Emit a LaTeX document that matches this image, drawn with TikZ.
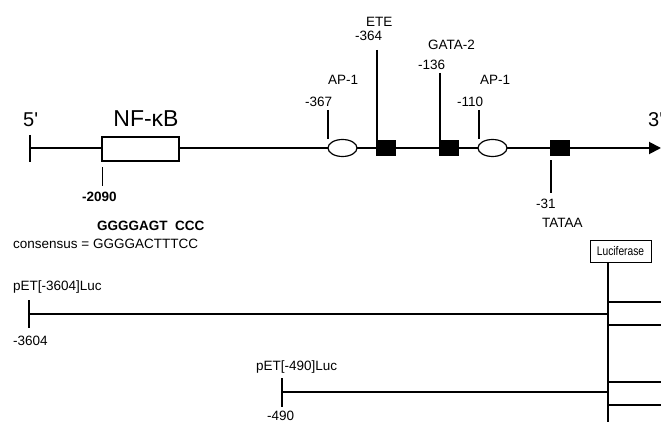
\documentclass[tikz,border=0pt]{standalone}
\usepackage{fontspec}
\setmainfont{Liberation Sans}
\usepackage{graphicx}
\usepackage{tikz}
\usetikzlibrary{arrows.meta, shapes.geometric}

\begin{document}
\begin{tikzpicture}[
  x=1pt, y=-1pt,
  lbl/.style={font=\fontsize{13.5}{16}\selectfont, inner sep=0pt, anchor=base west},
  big/.style={font=\fontsize{20}{24}\selectfont, inner sep=0pt, anchor=base west},
  dna/.style={line width=1.9pt},
  tick/.style={line width=1.3pt},
  site/.style={draw, line width=1.2pt, fill=white, inner sep=0pt,
    minimum width=77pt, minimum height=24pt},
  apone/.style={ellipse, draw, line width=1.2pt, fill=white, inner sep=0pt,
    minimum width=29pt, minimum height=17pt},
  blk/.style={fill=black, inner sep=0pt, minimum width=20pt, minimum height=16pt},
  lucbox/.style={draw, line width=1pt, inner sep=0pt, minimum width=61pt,
    minimum height=22pt},
]
  \useasboundingbox (0,0) rectangle (661,422);

  % Promoter line
  \coordinate (p5) at (30,148);
  \coordinate (p3) at (661,148);
  \draw[dna, -{Triangle[length=12pt, width=12pt]}] (p5) -- (p3);
  \coordinate (t5a) at (30,135);
  \coordinate (t5b) at (30,162);
  \draw[dna] (t5a) -- (t5b);
  \node[big] (lab5) at (23,127) {5\textquotesingle};
  \node[big] (lab3) at (648,127) {3\textquotesingle};

  % NF-kB site
  \node[site] (nfkb) at (140.5,149) {};
  \node[inner sep=0pt, anchor=base, font=\fontsize{23}{27}\selectfont] (nfkblab)
    at (146,127) {NF-κB};
  \coordinate (t2090a) at (102.5,167);
  \coordinate (t2090b) at (102.5,186);
  \draw[dna] (t2090a) -- (t2090b);
  \node[lbl, font=\fontsize{13.5}{16}\selectfont\bfseries] (m2090) at (82,202) {-2090};
  \node[lbl, font=\fontsize{13.5}{16}\selectfont\bfseries] (seq) at (97,230)
    {GGGGAGT\ \ CCC};
  \node[lbl] (cons) at (13,248) {consensus = GGGGACTTTCC};

  % Proximal sites
  \node[apone] (apa) at (342.5,148) {};
  \node[blk] (ete) at (386,148) {};
  \node[blk] (gata) at (449,148) {};
  \node[apone] (apb) at (492.5,148) {};
  \node[blk] (tata) at (560,148) {};

  \coordinate (t367) at (328,110);
  \coordinate (t364) at (377,50);
  \coordinate (t136) at (440,73);
  \coordinate (t110) at (479,110);
  \coordinate (t31) at (551,193);
  \draw[tick] (t367) -- (t367 |- apa.north);
  \draw[tick] (t364) -- (t364 |- ete.north);
  \draw[tick] (t136) -- (t136 |- gata.north);
  \draw[tick] (t110) -- (t110 |- apb.north);
  \draw[tick] (tata.south -| t31) ++(0,4) -- (t31);

  \node[lbl] (lete) at (366,27) {ETE};
  \node[lbl] (l364) at (355,41) {-364};
  \node[lbl] (lgata) at (428,50) {GATA-2};
  \node[lbl] (l136) at (418,70) {-136};
  \node[lbl] (lapa) at (328,85) {AP-1};
  \node[lbl] (l367) at (305,107) {-367};
  \node[lbl] (lapb) at (480,85) {AP-1};
  \node[lbl] (l110) at (457,107) {-110};
  \node[lbl] (l31) at (536,208) {-31};
  \node[lbl] (ltata) at (542,228) {TATAA};

  % Luciferase reporter
  \node[lucbox] (luc) at (620.5,251)
    {\fontsize{12.5}{14}\selectfont\scalebox{0.82}[1]{Luciferase}};
  \coordinate (luctop) at (608,262);
  \coordinate (lucend) at (608,422);
  \draw[dna] (luctop) -- (lucend);
  \foreach \yy in {302,325,382,405}
    \draw[line width=1.4pt] (608,\yy) -- (661,\yy);

  % Constructs
  \coordinate (s3604) at (29,314);
  \coordinate (s490) at (282,392);
  \draw[dna] (s3604) -- (s3604 -| luctop);
  \draw[dna] (s490) -- (s490 -| luctop);
  \coordinate (t3604a) at (29,300);
  \coordinate (t3604b) at (29,328);
  \coordinate (t490a) at (282,378);
  \coordinate (t490b) at (282,407);
  \draw[dna] (t3604a) -- (t3604b);
  \draw[dna] (t490a) -- (t490b);
  \node[lbl] (c3604) at (13,290) {pET[-3604]Luc};
  \node[lbl] (m3604) at (13,345) {-3604};
  \node[lbl] (c490) at (256,370) {pET[-490]Luc};
  \node[lbl] (m490) at (267,420) {-490};
\end{tikzpicture}
\end{document}
